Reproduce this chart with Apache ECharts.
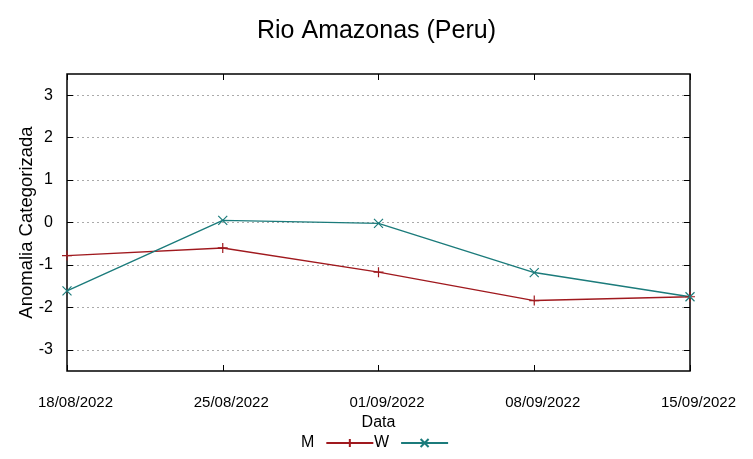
<!DOCTYPE html>
<html><head><meta charset="utf-8">
<script src="https://cdn.jsdelivr.net/npm/echarts@6/dist/echarts.min.js"></script>
<style>html,body{margin:0;padding:0;background:#fff}#c{width:753px;height:459px}</style>
</head><body><div id="c"></div>
<script>
const categories = ['18/08/2022','25/08/2022','01/09/2022','08/09/2022','15/09/2022'];
const seriesM = [-0.78, -0.6, -1.17, -1.84, -1.75];
const seriesW = [-1.61, 0.05, -0.02, -1.18, -1.75];
const yTicks = [-3,-2,-1,0,1,2,3];
const colM = '#a0191e', colW = '#1b7b7b';
const font = 'Liberation Sans';
const narrow = '"Liberation Sans Narrow", "Liberation Sans"';
const chart = echarts.init(document.getElementById('c'));
const plus = 'path://M0,5L10,5M5,0L5,10';
const cross = 'path://M0,0L10,10M10,0L0,10';
const legStyle = {fontFamily:font,fontSize:16,color:'#000',padding:[0,7,0,0]};
chart.setOption({
  animation:false,
  title:{text:'Rio Amazonas (Peru)',left:'center',top:14,textStyle:{fontFamily:font,fontSize:25,fontWeight:'normal',color:'#000'}},
  grid:{left:67,right:63,top:74,bottom:88,show:true,borderColor:'#000',borderWidth:1.5,backgroundColor:'transparent'},
  legend:[{left:296,top:430,itemWidth:47,itemHeight:10,align:'right',textStyle:legStyle,data:[{name:'M'}]},
          {left:369,top:430,itemWidth:47,itemHeight:10,align:'right',textStyle:legStyle,data:[{name:'W'}]}],
  xAxis:[{type:'category',data:categories,boundaryGap:false,name:'Data',nameLocation:'middle',nameGap:40,
    nameTextStyle:{fontFamily:font,fontSize:16,color:'#000'},
    axisLine:{show:false,onZero:false},axisTick:{inside:true,length:6,lineStyle:{color:'#000'}},
    axisLabel:{fontFamily:narrow,fontSize:15,color:'#000',margin:24,padding:[0,0,0,17]},splitLine:{show:false}},
    {type:'category',data:categories,boundaryGap:false,position:'top',axisLine:{show:false,onZero:false},
    axisTick:{inside:true,length:6,lineStyle:{color:'#000'}},axisLabel:{show:false}}],
  yAxis:[{type:'value',min:-3.5,max:3.5,name:'Anomalia Categorizada',nameLocation:'middle',nameGap:31,nameMoveOverlap:false,
    nameTextStyle:{fontFamily:font,fontSize:18.5,color:'#000'},
    axisLine:{show:false,onZero:false},
    axisTick:{show:true,inside:true,length:6,lineStyle:{color:'#000'},customValues:yTicks},
    axisLabel:{fontFamily:font,fontSize:16,color:'#000',margin:14,customValues:yTicks},
    splitLine:{show:true,lineStyle:{color:'#aaa',type:[2,3],width:1}}},
    {type:'value',min:-3.5,max:3.5,position:'right',axisLine:{show:false,onZero:false},
    axisTick:{show:true,inside:true,length:6,lineStyle:{color:'#000'},customValues:yTicks},
    axisLabel:{show:false},splitLine:{show:false}}],
  series:[
    {name:'M',type:'line',data:seriesM,symbol:plus,symbolSize:10,
      itemStyle:{color:colM,borderColor:colM,borderWidth:1.2},lineStyle:{color:colM,width:1.4}},
    {name:'W',type:'line',data:seriesW,symbol:cross,symbolSize:9,
      itemStyle:{color:colW,borderColor:colW,borderWidth:1.2},lineStyle:{color:colW,width:1.4}}
  ]
});
</script></body></html>
